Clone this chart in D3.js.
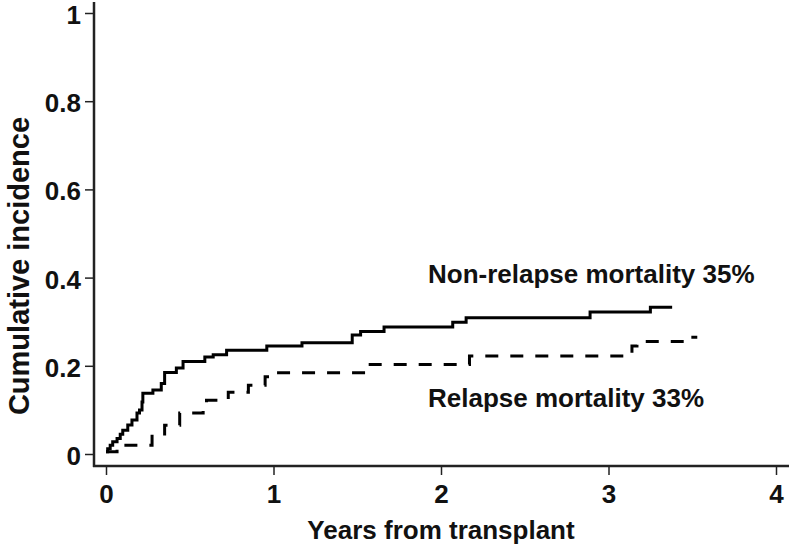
<!DOCTYPE html>
<html>
<head>
<meta charset="utf-8">
<script src="https://cdn.jsdelivr.net/npm/d3@7"></script>
<style>
  html, body { margin: 0; padding: 0; background: #fff; }
  svg text { font-family: "Liberation Sans", Arial, Helvetica, sans-serif; font-weight: bold; fill: #111; }
</style>
</head>
<body>
<svg id="chart" width="789" height="549"></svg>
<script>
// ---- data ----
const xTicks = [0, 1, 2, 3, 4];
const yTicks = [0, 0.2, 0.4, 0.6, 0.8, 1];
const yTickLabels = ["0", "0.2", "0.4", "0.6", "0.8", "1"];

const nrmTime  = [0, 0.01, 0.025, 0.04, 0.066, 0.085, 0.10, 0.13, 0.155, 0.185, 0.20, 0.215, 0.22, 0.28, 0.33, 0.35, 0.42, 0.46, 0.59, 0.64, 0.72, 0.96, 1.17, 1.47, 1.52, 1.66, 2.07, 2.15, 2.89, 3.25, 3.38];
const nrmValue = [0.005, 0.012, 0.02, 0.028, 0.035, 0.045, 0.054, 0.066, 0.077, 0.093, 0.10, 0.118, 0.138, 0.145, 0.16, 0.185, 0.195, 0.21, 0.22, 0.225, 0.235, 0.245, 0.252, 0.27, 0.278, 0.288, 0.299, 0.309, 0.322, 0.333, 0.333];

const relTime  = [0, 0.066, 0.275, 0.35, 0.44, 0.58, 0.60, 0.73, 0.85, 0.95, 1.01, 1.56, 2.17, 3.14, 3.17, 3.44, 3.53];
const relValue = [0.005, 0.02, 0.04, 0.065, 0.093, 0.104, 0.122, 0.14, 0.156, 0.175, 0.184, 0.203, 0.222, 0.245, 0.255, 0.265, 0.265];

const seriesLabels = ["Non-relapse mortality 35%", "Relapse mortality 33%"];
const xTitle = "Years from transplant";
const yTitle = "Cumulative incidence";

// ---- drawing ----
const svg = d3.select("#chart");
const x = d3.scaleLinear().domain([0, 4]).range([106, 776]);
const y = d3.scaleLinear().domain([0, 1]).range([454, 13]);
const axisX0 = 94, axisY0 = 466;

// axis lines
svg.append("line").attr("x1", axisX0).attr("x2", axisX0).attr("y1", 2).attr("y2", axisY0 + 1)
  .attr("stroke", "#222").attr("stroke-width", 2.5);
svg.append("line").attr("x1", axisX0 - 1).attr("x2", 789).attr("y1", axisY0).attr("y2", axisY0)
  .attr("stroke", "#222").attr("stroke-width", 2.5);

// y axis
const yAxis = d3.axisLeft(y).tickValues(yTicks).tickSize(9).tickPadding(4)
  .tickFormat((d, i) => yTickLabels[i]);
const gy = svg.append("g").attr("transform", `translate(${axisX0},0)`).call(yAxis);
gy.select(".domain").remove();
gy.selectAll(".tick line").attr("stroke", "#222").attr("stroke-width", 1.5);
gy.selectAll(".tick text").attr("font-size", 26).attr("font-family", null)
  .attr("dy", "0.4em").style("fill", "#111");

// x axis
const xAxis = d3.axisBottom(x).tickValues(xTicks).tickSize(9).tickPadding(10)
  .tickFormat(d3.format("d"));
const gx = svg.append("g").attr("transform", `translate(0,${axisY0})`).call(xAxis);
gx.select(".domain").remove();
gx.selectAll(".tick line").attr("stroke", "#222").attr("stroke-width", 1.5);
gx.selectAll(".tick text").attr("font-size", 26).attr("font-family", null).style("fill", "#111");

// titles
svg.append("text").attr("x", 441).attr("y", 539).attr("text-anchor", "middle")
  .attr("font-size", 26).text(xTitle);
svg.append("text").attr("transform", "translate(29,266) rotate(-90)").attr("text-anchor", "middle")
  .attr("font-size", 29).text(yTitle);

// curves
const line = d3.line().x(d => x(d[0])).y(d => y(d[1])).curve(d3.curveStepAfter);
const nrm = nrmTime.map((t, i) => [t, nrmValue[i]]);
const rel = relTime.map((t, i) => [t, relValue[i]]);

svg.append("path").datum(nrm).attr("d", line).attr("fill", "none")
  .attr("stroke", "#000").attr("stroke-width", 3);
svg.append("path").datum(rel).attr("d", line).attr("fill", "none")
  .attr("stroke", "#000").attr("stroke-width", 3).attr("stroke-dasharray", "13,12");

// series labels
svg.append("text").attr("x", 428).attr("y", 283).attr("font-size", 26).text(seriesLabels[0]);
svg.append("text").attr("x", 428).attr("y", 407).attr("font-size", 26).text(seriesLabels[1]);
</script>
</body>
</html>
